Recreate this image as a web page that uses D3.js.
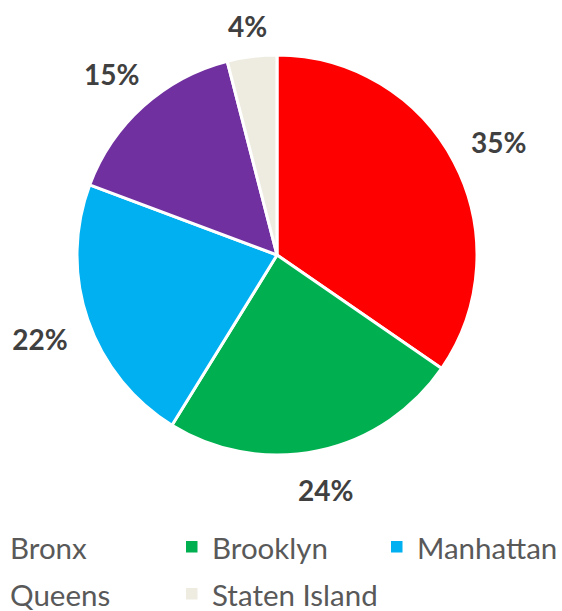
<!DOCTYPE html>
<html><head><meta charset="utf-8">
<script src="https://cdn.jsdelivr.net/npm/d3@7"></script>
<style>body{margin:0;background:#fff}svg{display:block}</style>
</head><body>
<svg id="c" width="562" height="611"></svg>
<script>
const categories = ["Bronx", "Brooklyn", "Manhattan", "Queens", "Staten Island"];
const values = [34.6, 24.2, 21.9, 15.3, 4.0];
const labels = ["35%", "24%", "22%", "15%", "4%"];
const colors = ["#FF0000", "#00B050", "#00B0F0", "#7030A0", "#EEECE1"];

const svg = d3.select("#c");
const cx = 277, cy = 255, r = 200;
const g = svg.append("g").attr("transform", `translate(${cx},${cy})`);
const pie = d3.pie().sort(null).value(d => d.v);
const data = pie(categories.map((c, i) => ({c, v: values[i], i})));
const arc = d3.arc().innerRadius(0).outerRadius(r);
g.selectAll("path").data(data).join("path")
  .attr("d", arc).attr("fill", d => colors[d.data.i])
  .attr("stroke", "#fff").attr("stroke-width", 3).attr("stroke-linejoin", "round");

const gap = 21;
const labs = g.selectAll("text.lab").data(data).join("text").attr("class", "lab")
  .attr("text-anchor", "middle").attr("dominant-baseline", "central")
  .attr("font-family", "Lato, 'Open Sans', sans-serif").attr("font-weight", "bold")
  .attr("font-size", 28).attr("fill", "#404040")
  .text((d, i) => labels[i]);
labs.each(function(d) {
  const bb = this.getBBox();
  const a = (d.startAngle + d.endAngle) / 2;
  const s = Math.sin(a), c = -Math.cos(a);
  const ext = bb.width / 2 * Math.abs(s) + 21 / 2 * Math.abs(c);
  const R = r + gap + ext;
  d3.select(this).attr("x", s * R).attr("y", c * R + 3);
});

const legend = svg.append("g");
const colX = [10, 212, 417], rowY = [547, 594];
categories.forEach((c, i) => {
  const x = colX[i % 3], y = rowY[Math.floor(i / 3)];
  legend.append("rect").attr("x", x - 26).attr("y", y - 6).attr("width", 11.5).attr("height", 11.5).attr("fill", colors[i]);
  legend.append("text").attr("x", x).attr("y", y).attr("dominant-baseline", "central")
    .attr("font-family", "Lato, 'Open Sans', sans-serif").attr("font-size", 29.5).attr("fill", "#595959").text(c);
});
</script>
</body></html>
